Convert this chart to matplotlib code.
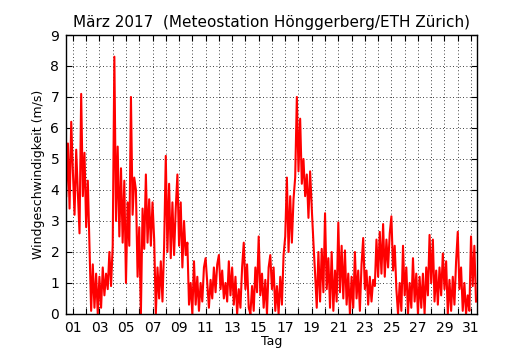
import numpy as np
import matplotlib
matplotlib.use("Agg")
import matplotlib.pyplot as plt

# Windgeschwindigkeit (m/s), 3-Stunden-Werte
wind_feb28 = [3.8, 5.5, 3.4, 6.2]
wind_w1 = [4.6, 3.2, 5.3, 3.9, 2.6, 7.1, 3.8, 5.2,   # 01
           2.8, 4.3, 2.2, 0.1, 1.6, 0.2, 1.3, 0.0,   # 02
           1.2, 0.2, 1.5, 0.6, 1.3, 0.8, 2.0, 0.9,   # 03
           2.2, 8.3, 3.0, 5.4, 2.5, 4.7, 2.3, 4.3,   # 04
           1.0, 3.6, 2.2, 7.0, 3.2, 4.4, 4.0, 1.2,   # 05
           2.8, 0.0, 3.4, 2.1, 4.5, 2.3, 3.7, 2.2,   # 06
           3.6, 2.4, 0.0, 1.5, 0.5, 1.7, 0.4, 2.2]   # 07
wind_w2 = [5.1, 2.0, 4.2, 1.8, 3.6, 1.9, 3.4, 4.5,   # 08
           2.2, 3.6, 1.5, 3.0, 1.9, 2.3, 0.3, 1.0,   # 09
           0.0, 1.7, 0.3, 1.2, 0.1, 1.0, 0.4, 1.5,   # 10
           1.8, 1.0, 0.2, 1.1, 0.5, 1.5, 0.7, 1.6,   # 11
           1.9, 0.8, 1.4, 0.5, 1.0, 0.4, 1.7, 0.6,   # 12
           1.5, 0.3, 1.2, 0.0, 0.8, 0.2, 1.5, 2.3,   # 13
           0.8, 1.6, 0.2, 0.0, 0.9, 0.1, 1.5, 0.7]   # 14
wind_w3 = [2.5, 0.6, 1.3, 0.2, 1.1, 0.0, 1.5, 1.9,   # 15
           0.8, 1.5, 0.1, 0.9, 0.0, 1.2, 0.3, 1.9,   # 16
           2.5, 4.4, 2.0, 3.8, 2.3, 3.7, 4.4, 7.0,   # 17
           4.6, 6.3, 4.2, 5.0, 3.8, 4.5, 3.1, 4.6,   # 18
           3.4, 2.3, 1.3, 0.2, 2.0, 0.4, 2.1, 0.7,   # 19
           3.25, 0.8, 1.8, 0.2, 2.0, 0.1, 1.4, 0.4,  # 20
           2.95, 0.7, 2.2, 0.5, 2.05, 0.3, 1.3, 0.0] # 21
wind_w4 = [1.2, 0.2, 2.0, 0.5, 1.4, 0.1, 1.6, 2.45,  # 22
           0.8, 1.4, 0.3, 1.2, 0.4, 1.1, 0.9, 2.4,   # 23
           1.2, 2.65, 1.3, 2.9, 1.2, 2.4, 1.5, 2.6,  # 24
           3.15, 1.4, 2.2, 0.8, 0.0, 1.0, 0.1, 2.2,  # 25
           0.6, 1.5, 0.0, 1.0, 0.2, 1.8, 0.4, 1.3,   # 26
           0.0, 1.2, 0.2, 1.3, 0.0, 1.5, 0.6, 2.55,  # 27
           1.0, 2.4, 0.4, 1.4, 0.3, 1.5, 0.6, 1.95]  # 28
wind_w5 = [0.8, 1.7, 0.0, 1.1, 0.1, 1.2, 0.3, 1.7,   # 29
           2.65, 0.8, 1.5, 0.1, 1.0, 0.0, 0.6, 0.1,  # 30
           2.5, 0.9, 2.2, 0.4]                        # 31

days = list(range(1, 32))
day_labels = ['%02d' % d if d % 2 == 1 else '' for d in days]

speed = np.concatenate([wind_feb28, wind_w1, wind_w2, wind_w3, wind_w4, wind_w5])
t = 0.5 + np.arange(len(speed)) * 0.125   # Tag im Monat, 3-h Schritte ab 28.2. 12 Uhr

fig = plt.figure(figsize=(5.3, 3.5), dpi=100)
ax = fig.add_axes([0.125, 0.103, 0.775, 0.797])
ax.plot(t, speed, color='red', linewidth=1.5)

ax.set_xlim(0.5, 31.45)
ax.set_ylim(0, 9)
ax.set_xticks(days)
ax.set_xticklabels(day_labels, fontsize=10)
ax.set_yticks(range(0, 10))
ax.tick_params(axis='y', labelsize=10)
ax.tick_params(direction='in', top=True, right=True, length=4, width=0.8, pad=5)
ax.grid(True, color='black', linestyle=(0, (1, 3)), linewidth=0.6)
for s in ax.spines.values():
    s.set_linewidth(1.0)

ax.set_xlabel('Tag', fontsize=9, labelpad=0)
ax.set_ylabel('Windgeschwindigkeit (m/s)', fontsize=9)
ax.set_title('März 2017  (Meteostation Hönggerberg/ETH Zürich)', fontsize=11)

fig.savefig('out.png', dpi=100)
